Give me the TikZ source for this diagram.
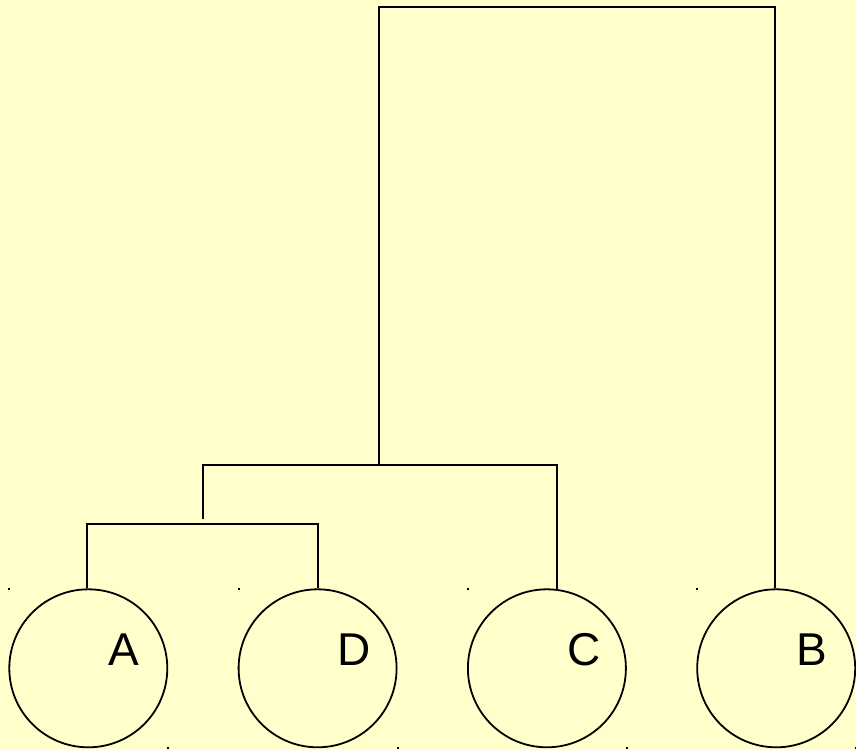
\documentclass[tikz,border=0pt]{standalone}
\usepackage{fontspec}
\setmainfont{Liberation Sans}
\definecolor{paper}{HTML}{FFFFCC}
\begin{document}
\begin{tikzpicture}[x=1pt,y=-1pt,
  leaf/.style={circle,draw,line width=1.8pt,minimum size=158pt,inner sep=0pt},
  leaflabel/.style={anchor=base,inner sep=0pt,font=\fontsize{46pt}{50pt}\selectfont},
  branch/.style={line width=1.8pt},
  tick/.style={fill=black}]
  % page and background
  \fill[paper] (0,0) rectangle (856,750);
  \useasboundingbox (0,0) rectangle (856,750);

  % leaves
  \node[leaf] (cA) at (88.3,668.3) {};
  \node[leaf] (cD) at (317.6,668.3) {};
  \node[leaf] (cC) at (546.9,668.3) {};
  \node[leaf] (cB) at (776.2,668.3) {};
  \node[leaflabel] (tA) at (124,665) {A};
  \node[leaflabel] (tD) at (354,665) {D};
  \node[leaflabel] (tC) at (584,665) {C};
  \node[leaflabel] (tB) at (812,665) {B};

  % corner ticks of each leaf's box
  \foreach \x in {8.3,237.6,466.9,696.2}{
    \fill[tick] (\x,588) rectangle ++(2,2);
    \fill[tick] (\x+159,747) rectangle ++(2,2);
  }

  % join points
  \coordinate (jAD) at (202.7,523.7);
  \coordinate (jADC) at (379,465);
  \coordinate (root) at (379,7);

  % branches
  \draw[branch] (cA.91.6) |- (jAD) -| (cD.north);
  \draw[branch] (jAD) ++(0,-5) |- (jADC) -| (cC.83.7);
  \draw[branch] (jADC) -- (root) -| (cB.91.4);
\end{tikzpicture}
\end{document}
